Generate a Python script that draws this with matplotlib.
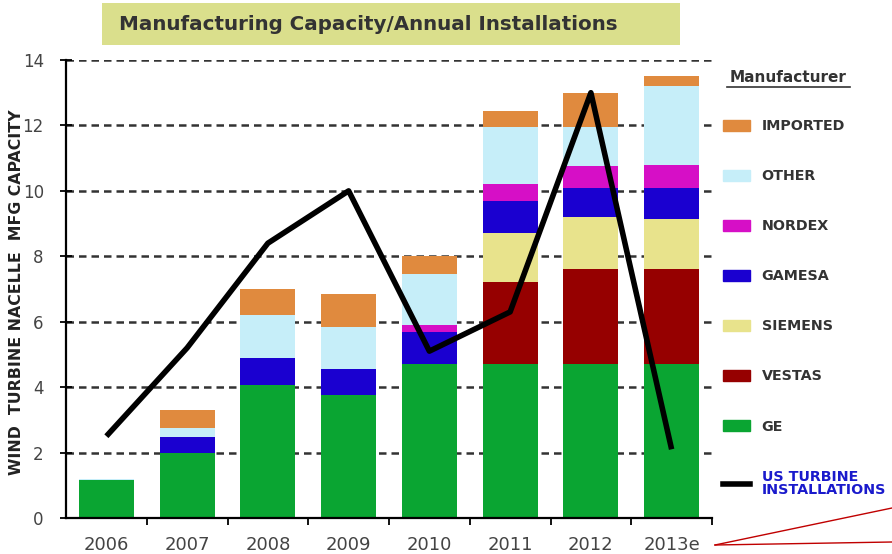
import matplotlib.pyplot as plt
from matplotlib.patches import Rectangle, Patch
from matplotlib.lines import Line2D
import numpy as np

years = ['2006', '2007', '2008', '2009', '2010', '2011', '2012', '2013e']

# stacked capacity (GW), bottom to top
ge       = [1.15, 2.0, 4.07, 3.76, 4.7, 4.7, 4.7, 4.7]
vestas   = [0, 0, 0, 0, 0, 2.5, 2.9, 2.9]
siemens  = [0, 0, 0, 0, 0, 1.5, 1.6, 1.55]
gamesa   = [0, 0.48, 0.83, 0.79, 1.0, 1.0, 0.9, 0.95]
nordex   = [0, 0, 0, 0, 0.2, 0.5, 0.65, 0.7]
other    = [0.05, 0.27, 1.3, 1.3, 1.55, 1.75, 1.2, 2.4]
imported = [0, 0.55, 0.8, 1.0, 0.55, 0.5, 1.05, 0.3]

us_installs = [2.5, 5.2, 8.4, 10.0, 5.1, 6.3, 13.0, 2.1]

series = [
    ('GE', ge, '#0aa532'),
    ('VESTAS', vestas, '#960000'),
    ('SIEMENS', siemens, '#e8e38c'),
    ('GAMESA', gamesa, '#1a00d0'),
    ('NORDEX', nordex, '#d60fc6'),
    ('OTHER', other, '#c6eef9'),
    ('IMPORTED', imported, '#e08a3e'),
]

fig = plt.figure(figsize=(8.92, 5.54), dpi=100)
ax = fig.add_axes([66 / 892, 1 - 518 / 554, 646 / 892, 458 / 554])

x = np.arange(len(years))
bottom = np.zeros(len(years))
for name, vals, col in series:
    ax.bar(x, vals, 0.68, bottom=bottom, color=col, zorder=2)
    bottom += np.array(vals)

ax.plot(x, us_installs, color='black', lw=4, zorder=3, solid_capstyle='butt')

ax.set_ylim(0, 14)
ax.set_xlim(-0.5, len(years) - 0.5)
ax.set_yticks(range(0, 15, 2))
ax.set_xticks(x)
ax.set_xticklabels(years)
ax.set_xticks(np.arange(0.5, len(years) - 0.4, 1), minor=True)
ax.tick_params(axis='x', which='major', length=0, labelsize=13, labelcolor='#444444', pad=13)
ax.tick_params(axis='x', which='minor', length=5, width=1.3)
ax.tick_params(axis='y', direction='inout', length=8, width=1.3, labelsize=12,
               labelcolor='#444444', pad=12)
for y in range(2, 15, 2):
    ax.axhline(y, color='#333333', lw=1.8, ls=(0, (3, 2)), zorder=1)
ax.spines['top'].set_visible(False)
ax.spines['right'].set_visible(False)
ax.spines['left'].set_linewidth(1.6)
ax.spines['bottom'].set_linewidth(1.6)
fig.text(17 / 892, 1 - 292 / 554, 'WIND  TURBINE NACELLE  MFG CAPACITY', rotation=90,
         ha='center', va='center', fontsize=11.3, fontweight='bold', color='#222222')

# legend
handles = [Patch(color=col) for name, vals, col in series[::-1]]
labels = [name for name, vals, col in series[::-1]]
handles.append(Line2D([], [], color='black', lw=4))
labels.append('US TURBINE\nINSTALLATIONS')
leg = fig.legend(handles, labels, loc='upper left', bbox_to_anchor=(0.796, 0.808),
                 frameon=False, labelspacing=2.52, handlelength=1.9,
                 handleheight=0.8, handletextpad=0.8,
                 prop={'weight': 'bold', 'size': 10.3})
for t in leg.get_texts():
    t.set_color('#333333')
leg.get_texts()[-1].set_color('#1a1acc')
leg.get_texts()[-1].set_linespacing(0.95)

fig.text(788 / 892, 1 - 77 / 554, 'Manufacturer', ha='center', va='center', fontsize=11,
         fontweight='bold', color='#333333')
fig.add_artist(Line2D([727 / 892, 850 / 892], [1 - 87 / 554, 1 - 87 / 554], color='#333333',
                      lw=1.2, transform=fig.transFigure))

# title box
fig.add_artist(Rectangle((102 / 892, 1 - 45 / 554), 578 / 892, 42 / 554,
                         transform=fig.transFigure, facecolor='#dadf8c',
                         edgecolor='none'))
fig.text(368 / 892, 1 - 24 / 554, 'Manufacturing Capacity/Annual Installations',
         ha='center', va='center', fontsize=14.3, fontweight='bold', color='#333333')

# red annotation lines
fig.add_artist(Line2D([715 / 892, 1.0], [1 - 545 / 554, 1 - 508 / 554],
                      color='#c00000', lw=1, transform=fig.transFigure))
fig.add_artist(Line2D([715 / 892, 1.0], [1 - 545 / 554, 1 - 542 / 554],
                      color='#c00000', lw=1, transform=fig.transFigure))

fig.savefig('out.png', dpi=100)
